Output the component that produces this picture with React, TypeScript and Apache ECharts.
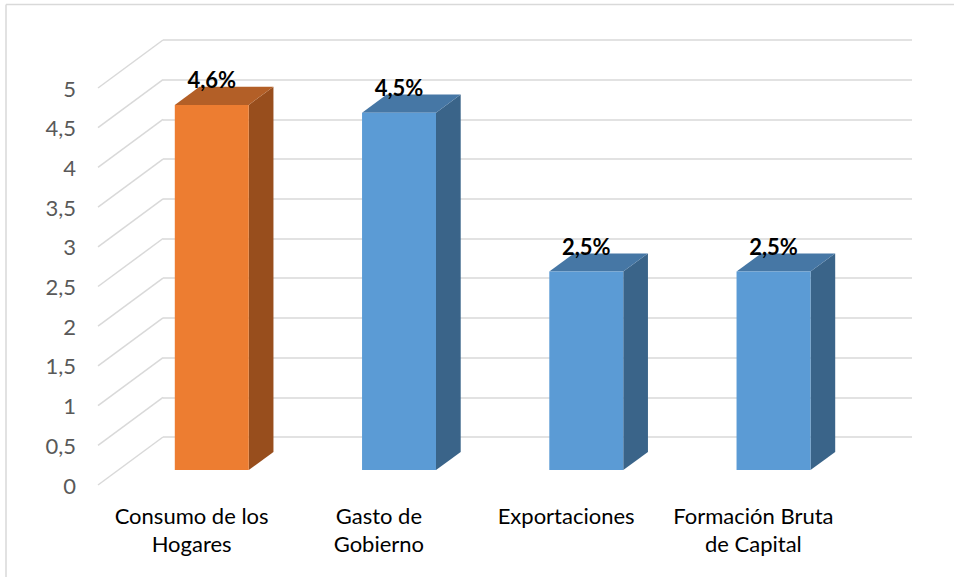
import React, { useEffect, useRef } from "react";
import * as echarts from "echarts";

const categories = ["Consumo de los\nHogares", "Gasto de\nGobierno", "Exportaciones", "Formación Bruta\nde Capital"];
const values = [4.6, 4.5, 2.5, 2.5];
const yTicks = [0, 0.5, 1, 1.5, 2, 2.5, 3, 3.5, 4, 4.5, 5];
const yTickLabels = ["0", "0,5", "1", "1,5", "2", "2,5", "3", "3,5", "4", "4,5", "5"];

// styles
const FONT = "Lato, 'Liberation Sans', sans-serif";
const ORANGE = { front: "#ED7D31", top: "#B35F27", side: "#984E1D" };
const BLUE = { front: "#5B9BD5", top: "#4677A5", side: "#3A6489" };
const GRID_COLOR = "#d9d9d9";
// perspective: offset from back wall to front plane
const DX = -65;
const DY = 48;
const FRONT = 0.69;
const BACK = 0.31;

export default function App() {
  const ref = useRef<HTMLDivElement>(null);
  useEffect(() => {
    if (!ref.current) return;
    const chart = echarts.init(ref.current, undefined, { renderer: "svg" });
    const fmtTick = (v: number) => {
      const i = yTicks.findIndex((t) => Math.abs(t - v) < 1e-9);
      return i >= 0 ? yTickLabels[i] : "";
    };
    chart.setOption({
      animation: false,
      backgroundColor: "#ffffff",
      grid: [
        { left: 163, right: 42, top: 40, bottom: 140 },
        { left: 98, right: 107, top: 88, bottom: 92 },
      ],
      xAxis: [
        { gridIndex: 0, type: "category", data: categories, show: false },
        {
          gridIndex: 1,
          type: "category",
          data: categories,
          axisLine: { show: false },
          axisTick: { show: false },
          axisLabel: {
            interval: 0,
            margin: 16,
            color: "#000000",
            fontFamily: FONT,
            fontSize: 22,
            lineHeight: 28,
          },
        },
      ],
      yAxis: [
        {
          gridIndex: 0,
          type: "value",
          min: 0,
          max: 5,
          interval: 0.5,
          axisLabel: { show: false },
          axisLine: { show: false },
          axisTick: { show: false },
          splitLine: { show: true, lineStyle: { color: GRID_COLOR, width: 1.5 } },
        },
        {
          gridIndex: 1,
          type: "value",
          min: 0,
          max: 5,
          interval: 0.5,
          axisLine: { show: false },
          axisTick: { show: false },
          splitLine: { show: false },
          axisLabel: {
            margin: 22,
            color: "#595959",
            fontFamily: FONT,
            fontSize: 22,
            padding: [5, 0, 0, 0],
            formatter: fmtTick,
          },
        },
      ],
      graphic: [
        { type: "line", shape: { x1: 6, y1: 4.5, x2: 954, y2: 4.5 }, style: { stroke: GRID_COLOR, lineWidth: 1.5 } },
        { type: "line", shape: { x1: 6, y1: 4.5, x2: 6, y2: 577 }, style: { stroke: GRID_COLOR, lineWidth: 1.5 } },
      ],
      series: [
        {
          type: "custom",
          xAxisIndex: 0,
          yAxisIndex: 0,
          clip: false,
          silent: true,
          data: yTicks.map((v) => [0, v]),
          encode: { x: 0, y: 1 },
          renderItem: (params: any, api: any) => {
            const y = api.coord([0, api.value(1)])[1];
            const x0 = params.coordSys.x;
            return {
              type: "line",
              shape: { x1: x0 + DX, y1: y + DY, x2: x0, y2: y },
              style: { stroke: GRID_COLOR, lineWidth: 1.5 },
            };
          },
        },
        {
          type: "custom",
          xAxisIndex: 0,
          yAxisIndex: 0,
          clip: false,
          data: values.map((v, i) => [i, v]),
          encode: { x: 0, y: 1 },
          z: 5,
          renderItem: (params: any, api: any) => {
            const cat = api.value(0);
            const val = api.value(1);
            const top = api.coord([cat, val]);
            const base = api.coord([cat, 0]);
            const bandW = api.size([1, 0])[0];
            const w = bandW * 0.395;
            const fx = top[0] + DX * FRONT;
            const x1 = fx - w / 2;
            const x2 = fx + w / 2;
            const yT = top[1] + DY * FRONT;
            const yB = base[1] + DY * FRONT;
            const ddx = -DX * (FRONT - BACK);
            const ddy = -DY * (FRONT - BACK);
            const c = params.dataIndex === 0 ? ORANGE : BLUE;
            const label = String(val).replace(".", ",") + "%";
            return {
              type: "group",
              children: [
                {
                  type: "polygon",
                  shape: { points: [[x2, yT], [x2, yB], [x2 + ddx, yB + ddy], [x2 + ddx, yT + ddy]] },
                  style: { fill: c.side },
                },
                {
                  type: "polygon",
                  shape: { points: [[x1, yT], [x2, yT], [x2 + ddx, yT + ddy], [x1 + ddx, yT + ddy]] },
                  style: { fill: c.top },
                },
                {
                  type: "rect",
                  shape: { x: x1, y: yT, width: w, height: yB - yT },
                  style: { fill: c.front },
                },
                {
                  type: "text",
                  x: fx,
                  y: yT - 25,
                  style: {
                    text: label,
                    fill: "#000000",
                    font: "bold 22px " + FONT,
                    align: "center",
                    verticalAlign: "middle",
                  },
                },
              ],
            };
          },
        },
      ],
    });
    return () => chart.dispose();
  }, []);
  return (
    <div
      ref={ref}
      style={{ position: "fixed", left: 0, top: 0, width: 954, height: 577 }}
    />
  );
}
